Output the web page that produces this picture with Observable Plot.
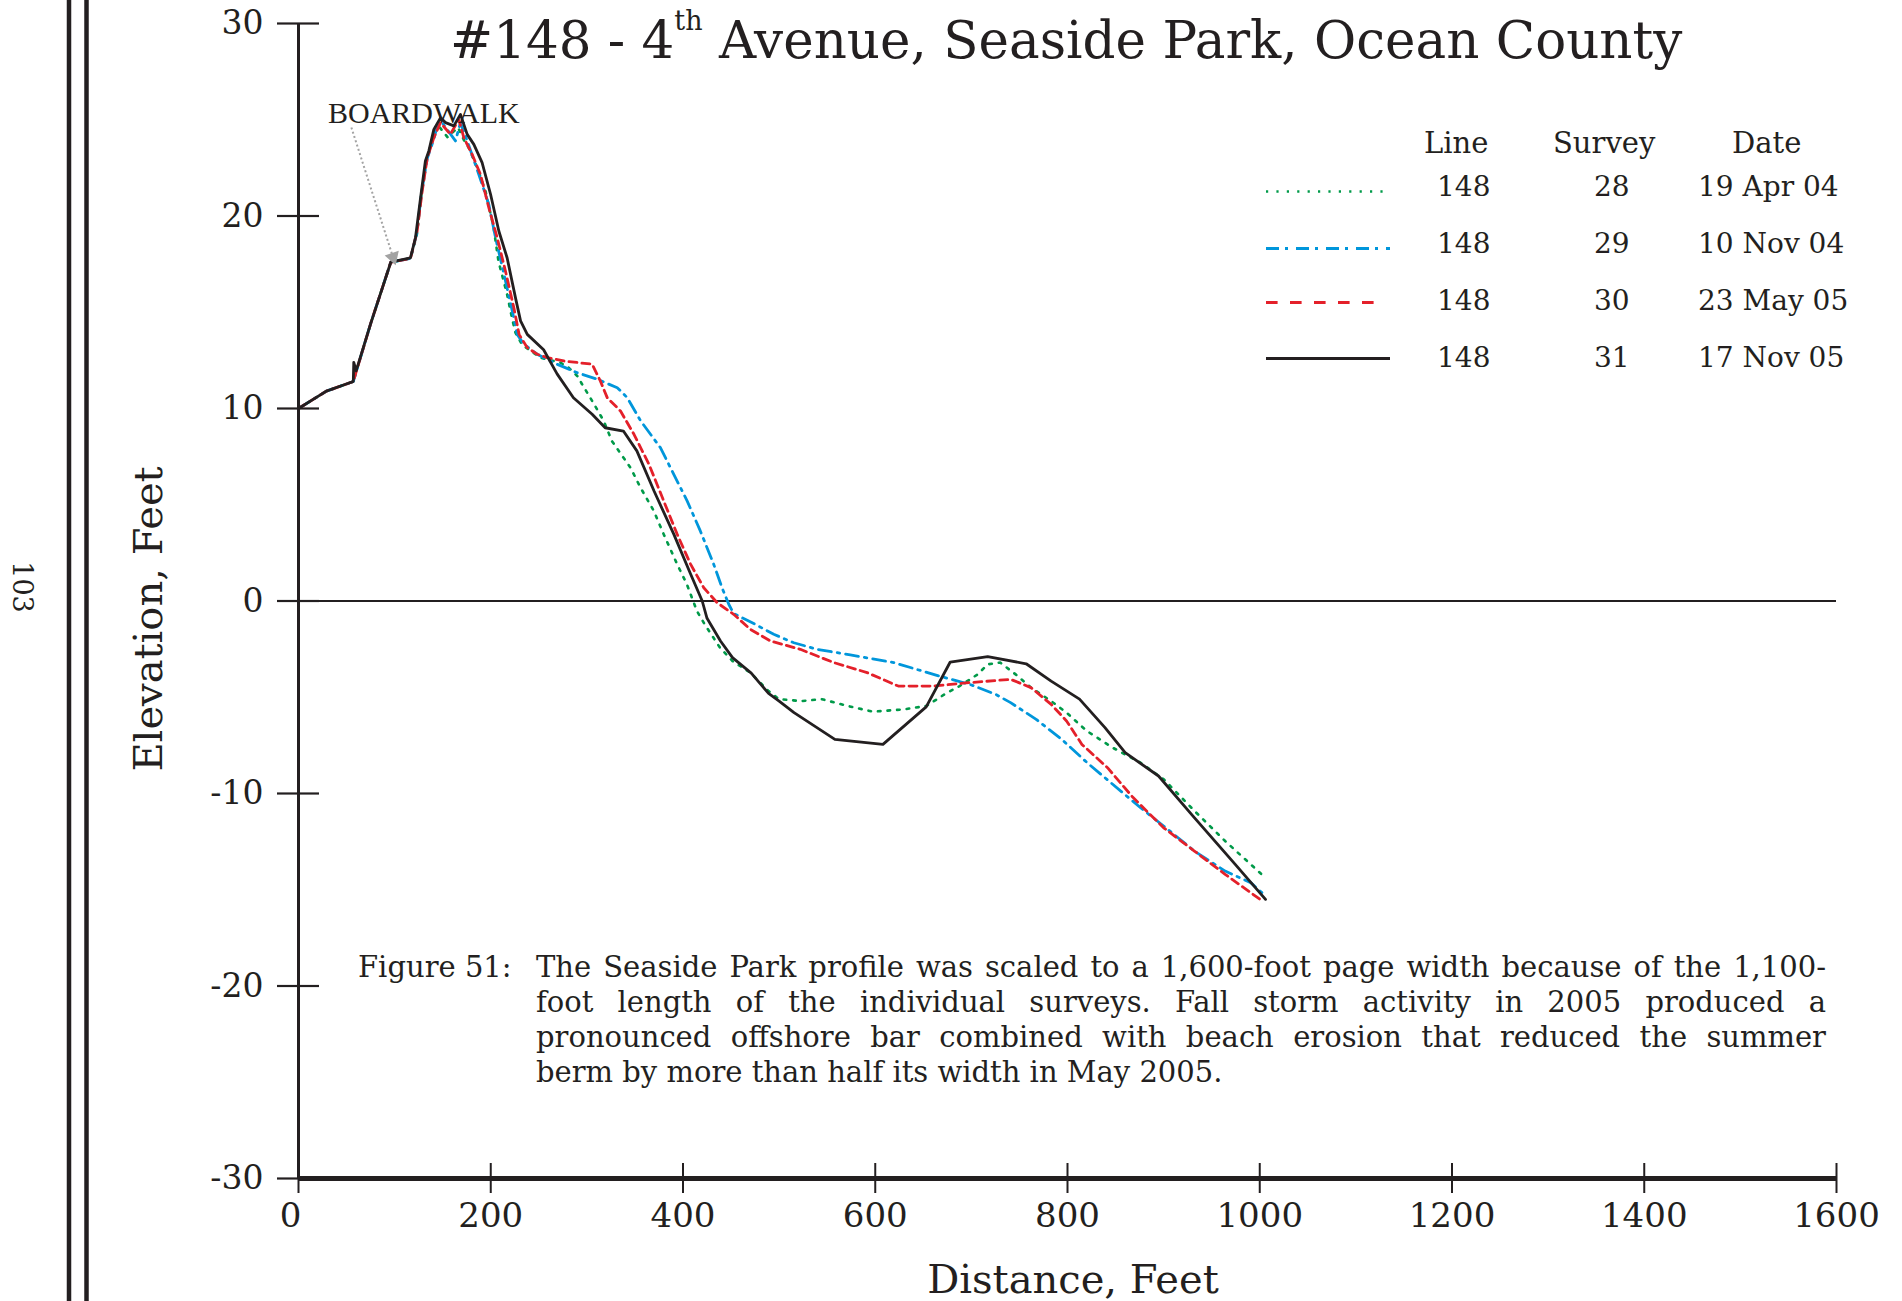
<!DOCTYPE html>
<html><head><meta charset="utf-8">
<script src="https://cdn.jsdelivr.net/npm/d3@7"></script>
<script src="https://cdn.jsdelivr.net/npm/@observablehq/plot@0.6"></script>
<style>
html,body{margin:0;padding:0;background:#fff;overflow:hidden;}
#wrap{position:relative;width:1902px;height:1301px;overflow:hidden;background:#fff;}
#wrap svg{position:absolute;left:0;top:0;}
.cap{position:absolute;font-family:"DejaVu Serif",serif;font-size:29px;line-height:35px;color:#231f20;}
.j{text-align:justify;text-align-last:justify;}
</style></head><body><div id="wrap"></div>
<script>
// ---- data ----
const s28x=[0,29,57,75,96,116.5,123,128,133,140,145.3,155,166,172,177,186,194.5,203,208,217,222,225.7,232.7,251.7,272.6,281,290,295,305.5,317.6,326,345.4,355.8,369.6,380,394,404,414.5,422.4,438.4,451.5,470,489,500,523,544.5,571,597.6,629.6,653.3,672,687.7,706.6,717,730,746,762,783,799,820,847,876,900,932,964,1002];
const s28y=[10,10.9,11.4,14.4,17.6,17.8,19.0,21.2,22.9,24.1,24.7,24.1,24.6,23.95,23.55,22.5,21.3,19.4,17.66,15.93,14.72,13.94,13.3,12.64,12.38,12.12,11.69,11.26,10.39,9.35,8.31,6.92,5.89,4.68,3.46,1.9,0.87,-0.52,-1.2,-2.42,-3.12,-3.72,-4.68,-5.1,-5.2,-5.1,-5.45,-5.75,-5.63,-5.45,-4.85,-4.42,-3.81,-3.29,-3.2,-3.81,-4.5,-5.2,-5.8,-6.75,-7.62,-8.4,-9.26,-10.9,-12.47,-14.2];
const s29x=[0,29,57,75,96,116.5,123,128,134,140.8,144,149.4,163.3,168.5,175.5,187.6,198,205,213.8,224,227.5,234.4,248.3,269,290,310.8,331.6,342,356,376.6,390.4,404.4,418,432,440.6,447.6,452.7,475,494.4,515.3,539.5,574,619.3,666.6,698.4,725.3,740.8,767.4,794,820.4,847,876,900,932,964,990.6,1006];
const s29y=[10,10.9,11.4,14.4,17.6,17.8,19.1,21.2,23.0,24.0,24.6,24.85,23.9,24.85,23.9,22.16,20.6,18.87,16.97,14.7,13.85,13.34,12.82,12.3,11.86,11.52,11.08,10.56,9.35,7.96,6.58,5.19,3.64,1.9,0.69,-0.17,-0.65,-1.21,-1.73,-2.17,-2.51,-2.8,-3.2,-3.9,-4.33,-4.85,-5.28,-6.15,-7.19,-8.4,-9.52,-10.74,-11.69,-12.99,-14.03,-14.63,-15.32];
const s30x=[0,29,57,75,96,116.5,123.4,128.7,134,140.8,147.7,158,166.8,172,180.6,189.3,198,206.7,215.3,224,229.5,238,248.3,258.6,276,305.5,314,321.2,335,349,364.6,380,394,408,421.6,435.5,452.7,470,491,522,557,591.5,624,661,698.4,740.8,762,783,799,815,841.6,868,900,932,964,1002];
const s30y=[10,10.9,11.4,14.4,17.6,17.8,19.2,21.3,23.03,24.07,24.85,24.24,25.02,24.07,23.2,22.16,20.43,18.87,17.14,15.24,13.85,13.16,12.82,12.64,12.47,12.3,11.43,10.56,9.87,8.66,7.1,5.19,3.46,1.9,0.69,-0.09,-0.69,-1.47,-2.08,-2.51,-3.2,-3.72,-4.42,-4.42,-4.24,-4.07,-4.5,-5.37,-6.23,-7.45,-8.66,-10.2,-11.78,-12.99,-14.2,-15.56];
const s31x=[0,29,57,57.5,60,75,96,116.5,121.7,127,132,135.6,140.8,147.7,153,161.6,168.5,175.5,182.4,191,199.8,208.4,217,225.7,231,238,255,269,286,305.5,319,338,352,370,390.5,408,420,425,439,451.5,471,489,500,515.5,558,608,653,678,717,757,783,812.5,839,860,894.7,929,974.5,1006];
const s31y=[10,10.9,11.4,12.4,11.95,14.4,17.6,17.83,18.87,20.95,22.86,23.38,24.5,25.1,24.85,24.68,25.28,24.24,23.72,22.77,21.13,19.22,17.83,15.76,14.55,13.85,13.05,11.8,10.56,9.7,9.0,8.83,7.8,5.7,3.46,1.39,0,-0.9,-2.08,-2.94,-3.75,-4.8,-5.2,-5.8,-7.19,-7.45,-5.5,-3.17,-2.89,-3.26,-4.16,-5.1,-6.58,-7.88,-9.09,-11.08,-13.68,-15.5];

const lineIds=[148,148,148,148];
const surveys=[28,29,30,31];
const dates=["19 Apr 04","10 Nov 04","23 May 05","17 Nov 05"];
const xTicks=[0,200,400,600,800,1000,1200,1400,1600];
const yTicks=[-30,-20,-10,0,10,20,30];
const boardwalk=[{label:"BOARDWALK",x:100,y:17.6,fromX:55,fromY:24.6}];

// ---- build ----
const INK="#231f20", GREEN="#009a49", BLUE="#0096db", RED="#e4202a";
const rows=(xs,ys,s)=>xs.map((x,i)=>({x,y:ys[i],survey:s}));
const r28=rows(s28x,s28y,28), r29=rows(s29x,s29y,29), r30=rows(s30x,s30y,30), r31=rows(s31x,s31y,31);

const W=1902,H=1301,ML=298,MR=66,MT=23,MB=123;
const FW=W-ML-MR, FH=H-MT-MB;

const chart=Plot.plot({
  width:W,height:H,marginLeft:ML,marginRight:MR,marginTop:MT,marginBottom:MB,
  x:{domain:[0,1600]},
  y:{domain:[-30,30]},
  style:{fontFamily:"'DejaVu Serif',serif",color:INK,background:"white",fontSize:"33px"},
  marks:[
    Plot.ruleY([0],{stroke:INK,strokeWidth:1.8}),
    Plot.line(r28,{x:"x",y:"y",stroke:GREEN,strokeWidth:2.6,strokeDasharray:"2.6 7"}),
    Plot.line(r29,{x:"x",y:"y",stroke:BLUE,strokeWidth:2.8,strokeDasharray:"13 6 2.5 6"}),
    Plot.line(r30,{x:"x",y:"y",stroke:RED,strokeWidth:2.8,strokeDasharray:"8 5"}),
    Plot.line(r31,{x:"x",y:"y",stroke:INK,strokeWidth:2.8}),
    Plot.link(boardwalk,{x1:"fromX",y1:"fromY",x2:"x",y2:"y",stroke:"#a3a3a3",strokeWidth:2,strokeDasharray:"2 2.5"}),
    Plot.dot(boardwalk,{x:"x",y:"y",symbol:"triangle",r:5.5,fill:"#a3a3a3",stroke:"none",rotate:162,dx:-1.6,dy:-5}),
    Plot.ruleX([0],{stroke:INK,strokeWidth:3}),
    Plot.ruleY([-30],{stroke:INK,strokeWidth:5}),
    Plot.tickY(yTicks,{y:d=>d,insetRight:FW-21,stroke:INK,strokeWidth:2.2}),
    Plot.axisY(yTicks,{tickSize:21,tickPadding:14,fontSize:33,label:null,tickFormat:d=>String(d),strokeWidth:2.2}),
    Plot.tickX(xTicks,{x:d=>d,insetTop:FH-15,stroke:INK,strokeWidth:2}),
    Plot.axisX(xTicks,{tickSize:15,tickPadding:9,fontSize:34,label:null,tickFormat:d=>d===0?"":String(d),strokeWidth:2}),
    Plot.axisX([0],{tickSize:0,tickPadding:24,dx:-8,fontSize:34,label:null,tickFormat:d=>String(d)})
  ]
});
document.getElementById("wrap").appendChild(chart);

// ---- non-data decorations and text ----
const svg=d3.select(chart);
const SERIF="'DejaVu Serif',serif";
const g=svg.append("g").attr("text-anchor","start").attr("fill",INK).attr("font-family",SERIF);
// page binding lines
[69,86.5].forEach(x=>g.append("line").attr("x1",x).attr("x2",x).attr("y1",0).attr("y2",H).attr("stroke",INK).attr("stroke-width",4.5));
g.append("text").attr("transform","translate(13,587) rotate(90)").attr("text-anchor","middle")
  .attr("font-size",27).text("103");
// title
const t=g.append("text").attr("x",450).attr("y",58).attr("font-size",51.5);
t.append("tspan").text("#148 - 4");
t.append("tspan").attr("font-size",27).attr("dy",-28).text("th");
t.append("tspan").attr("dy",28).text(" Avenue, Seaside Park, Ocean County");
// axis titles
g.append("text").attr("transform","translate(162,619) rotate(-90)").attr("text-anchor","middle")
  .attr("font-size",40).text("Elevation, Feet");
g.append("text").attr("x",1073).attr("y",1293).attr("text-anchor","middle")
  .attr("font-size",40).text("Distance, Feet");
// boardwalk label
g.append("text").attr("x",328).attr("y",123).attr("font-family","'Liberation Serif',serif")
  .attr("font-size",30).text(boardwalk[0].label);
// legend
const hdr=[["Line",1424],["Survey",1553],["Date",1732]];
hdr.forEach(([s,x])=>g.append("text").attr("x",x).attr("y",153).attr("font-size",29).text(s));
const legStyles=[
  {stroke:GREEN,w:2.4,dash:"2.2 8.2",x2:1390},
  {stroke:BLUE,w:2.8,dash:"13 6 3 8",x2:1390},
  {stroke:RED,w:3,dash:"11.6 12.4",x2:1380},
  {stroke:INK,w:2.8,dash:null,x2:1390}
];
const rowBase=[196,253,310,367], rowLine=[191.5,248.5,302.5,358.5];
surveys.forEach((s,i)=>{
  const st=legStyles[i];
  const l=g.append("line").attr("x1",1266).attr("x2",st.x2).attr("y1",rowLine[i]).attr("y2",rowLine[i])
    .attr("stroke",st.stroke).attr("stroke-width",st.w);
  if(st.dash) l.attr("stroke-dasharray",st.dash);
  const tx=(x,v)=>g.append("text").attr("x",x).attr("y",rowBase[i]).attr("font-size",28).text(v);
  tx(1437,String(lineIds[i])); tx(1594,String(s)); tx(1698,dates[i]);
});

// caption (justified paragraph)
const wrap=document.getElementById("wrap");
const capLines=[
  "The Seaside Park profile was scaled to a 1,600-foot page width because of the 1,100-",
  "foot length of the individual surveys.  Fall storm activity in 2005 produced a",
  "pronounced offshore bar combined with beach erosion that reduced the summer",
  "berm by more than half its width in May 2005."
];
const fig=document.createElement("div");
fig.className="cap"; fig.style.left="358px"; fig.style.top="950px"; fig.textContent="Figure 51:";
wrap.appendChild(fig);
capLines.forEach((s,i)=>{
  const d=document.createElement("div");
  d.className="cap"+(i<capLines.length-1?" j":"");
  d.style.left="536px"; d.style.width="1290px"; d.style.top=(950+i*35)+"px";
  d.textContent=s; wrap.appendChild(d);
});
</script></body></html>
